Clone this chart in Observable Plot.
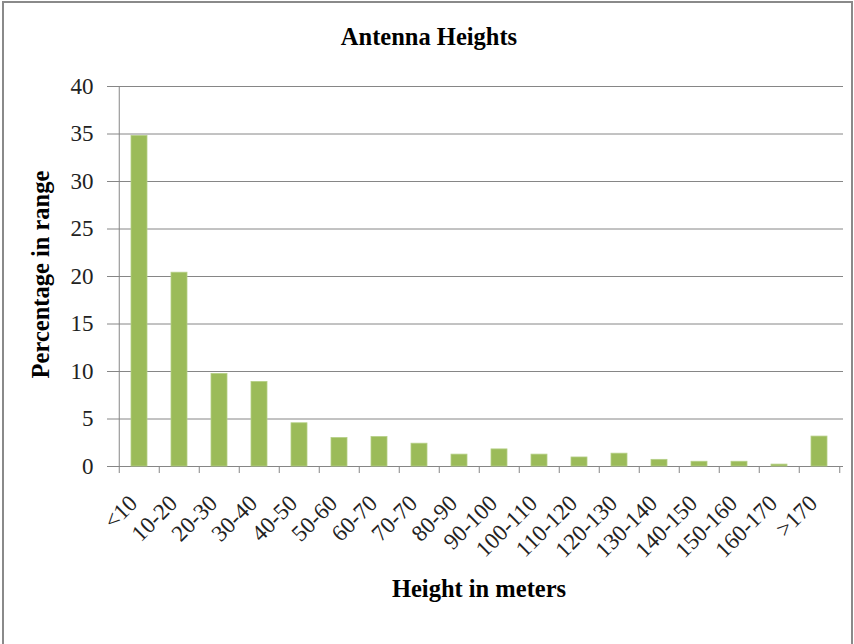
<!DOCTYPE html>
<html><head><meta charset="utf-8">
<script src="https://cdn.jsdelivr.net/npm/d3@7"></script>
<script src="https://cdn.jsdelivr.net/npm/@observablehq/plot@0.6"></script>
<style>
html,body{margin:0;padding:0;overflow:hidden;background:#fff;width:854px;height:644px}
#wrap{position:relative;width:854px;height:644px;overflow:hidden}
#frame{position:absolute;left:2px;top:1px;width:851px;height:680px;border:2px solid #8a8a8a;box-sizing:border-box}
#title{position:absolute;left:0;width:858px;top:25px;text-align:center;font-family:"Liberation Serif","Times New Roman",Times,"DejaVu Serif",serif;font-weight:bold;font-size:24.5px;line-height:24px;color:#000}
#chart{position:absolute;left:0;top:0}
</style></head>
<body><div id="wrap"><div id="frame"></div><div id="title">Antenna Heights</div><div id="chart"></div></div>
<script>
const categories = ["<10","10-20","20-30","30-40","40-50","50-60","60-70","70-70","80-90","90-100","100-110","110-120","120-130","130-140","140-150","150-160","160-170",">170"];
const values = [34.8, 20.4, 9.75, 8.9, 4.55, 3.0, 3.1, 2.4, 1.25, 1.8, 1.25, 0.95, 1.35, 0.7, 0.5, 0.5, 0.2, 3.15];
const yTicks = [0, 5, 10, 15, 20, 25, 30, 35, 40];
const yLabel = "Percentage in range";
const xLabel = "Height in meters";

const data = categories.map((c, i) => ({cat: c, val: values[i]}));
const W = 854, H = 644, mL = 114, mR = 11, mT = 86, mB = 178;
const step = (W - mL - mR) / categories.length;
const grid = "#868686";
const font = '"Liberation Serif", "Times New Roman", Times, "DejaVu Serif", serif';

const chart = Plot.plot({
  width: W, height: H,
  marginLeft: mL, marginRight: mR, marginTop: mT, marginBottom: mB,
  style: {fontFamily: font, background: "transparent"},
  x: {domain: categories, paddingInner: 0.6, paddingOuter: 0.3, axis: null},
  y: {domain: [0, 40], axis: null},
  marks: [
    Plot.gridY(yTicks, {stroke: grid, strokeOpacity: 1, strokeWidth: 1}),
    Plot.ruleX([categories[0]], {x: d => d, dx: -step / 2, y1: 40, y2: 0, stroke: grid, strokeWidth: 1}),
    Plot.ruleX(categories, {x: d => d, dx: -step / 2, y1: 0, y2: 0, insetBottom: -7, stroke: grid}),
    Plot.ruleX([categories[categories.length - 1]], {x: d => d, dx: step / 2, y1: 0, y2: 0, insetBottom: -7, stroke: grid}),
    Plot.barY(data, {x: "cat", y: "val", fill: "#9bbb59", stroke: "#b5cf86", strokeWidth: 0.8}),
    Plot.axisY(yTicks, {tickSize: 7, tickPadding: 14, fontSize: 23, stroke: grid, fill: "#222", label: null, tickFormat: d => String(d)}),
    Plot.axisX({tickRotate: -45, tickSize: 0, tickPadding: 33, dx: -6, fontSize: 23, fill: "#222", label: null}),
    Plot.text([yLabel], {frameAnchor: "left", textAnchor: "middle", text: d => d, rotate: -90, dx: -73, dy: -2, fontSize: 24.5, fontWeight: "bold", fill: "#000"}),
    Plot.text([xLabel], {frameAnchor: "bottom", textAnchor: "middle", text: d => d, dy: 130, fontSize: 24.5, fontWeight: "bold", fill: "#000"})
  ]
});
document.getElementById("chart").appendChild(chart);
</script>
</body></html>
